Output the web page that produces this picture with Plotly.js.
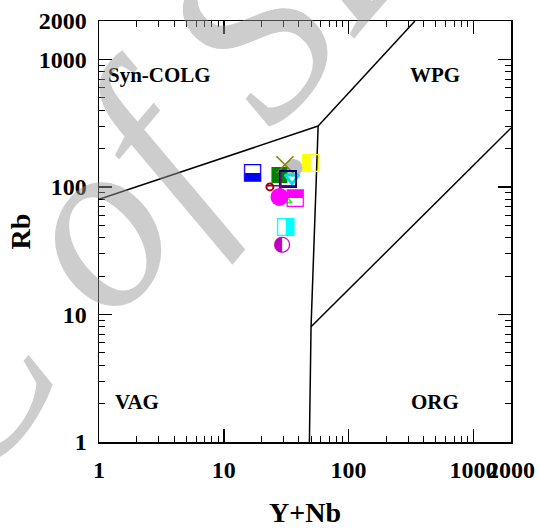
<!DOCTYPE html>
<html>
<head>
<meta charset="utf-8">
<script src="https://cdn.plot.ly/plotly-3.0.1.min.js"></script>
<style>html,body{margin:0;padding:0;background:#fff;}#chart{width:539px;height:528px;}</style>
</head>
<body>
<div id="chart"></div>
<script>
// ---- Axis ticks ----
const majorTicks = [1, 10, 100, 1000, 2000];
const majorLabels = ['1', '10', '100', '1000', '2000'];
const minorTicks = [2, 3, 4, 5, 6, 7, 8, 9, 20, 30, 40, 50, 60, 70, 80, 90, 200, 300, 400, 500, 600, 700, 800, 900];

// ---- Field boundaries (Y+Nb, Rb) ----
const bndVagColgX = [1, 57];
const bndVagColgY = [80, 300];
const bndColgWpgX = [57, 340];
const bndColgWpgY = [300, 2000];
const bndVagWpgX = [57, 50, 48.5];
const bndVagWpgY = [300, 8, 1];
const bndWpgOrgX = [50, 2000];
const bndWpgOrgY = [8, 290];

// ---- Field names ----
const fieldNames = ['Syn-COLG', 'WPG', 'VAG', 'ORG'];
const fieldX = [1.14, 492, 1.3, 492];
const fieldY = [755, 755, 2.06, 2.06];
const fieldAnchor = ['left', 'center', 'left', 'center'];

// ---- Samples drawn with marker symbols ----
const grayCircleX = [36.2];   const grayCircleY = [141];
const greenSquareX = [27.9];  const greenSquareY = [124];
const oliveXX = [30.9];       const oliveXY = [149];
const cyanTriX = [35.2];      const cyanTriY = [117.7];
const navySquareX = [32.7];   const navySquareY = [115.6];
const purpleCrossX = [28.7];  const purpleCrossY = [102];
const redCircleX = [23.4];    const redCircleY = [100];
const greenTriX = [29.8];     const greenTriY = [80.6];
const magCircleX = [27.9];    const magCircleY = [83.5];

// ---- Samples drawn with half-filled symbols ----
const blueHalfX = [17.0];     const blueHalfY = [127.6];
const yellowHalfX = [50.0];   const yellowHalfY = [152.8];
const magHalfX = [37.5];      const magHalfY = [81.3];
const cyanHalfX = [31.2];     const cyanHalfY = [48.1];
const purpleHalfX = [29.3];   const purpleHalfY = [35.1];

const SERIF = 'Liberation Serif, Times New Roman, serif';
const GLYPH = 'DejaVu Sans, sans-serif';

function bnd(x, y) {
  return {x: x, y: y, type: 'scatter', mode: 'lines', line: {color: '#000', width: 1.5}, hoverinfo: 'skip', showlegend: false};
}
function mk(x, y, symbol, color, size, lw, lc) {
  return {x: x, y: y, type: 'scatter', mode: 'markers', showlegend: false,
    marker: {symbol: symbol, color: color, size: size, line: {width: lw || 0, color: lc || color}}};
}
function half(x, y, ch, color, size) {
  return {x: x, y: y, type: 'scatter', mode: 'text', text: [ch], textposition: 'middle center',
    textfont: {family: GLYPH, size: size, color: color}, showlegend: false, cliponaxis: false};
}

const traces = [
  bnd(bndVagColgX, bndVagColgY),
  bnd(bndColgWpgX, bndColgWpgY),
  bnd(bndVagWpgX, bndVagWpgY),
  bnd(bndWpgOrgX, bndWpgOrgY),
  half(blueHalfX, blueHalfY, '\u2B13', '#0000ff', 23),
  half(yellowHalfX, yellowHalfY, '\u25E7', '#ffff00', 23),
  mk(grayCircleX, grayCircleY, 'circle', '#c0c0c0', 18),
  mk(greenSquareX, greenSquareY, 'square', '#008000', 16),
  mk(oliveXX, oliveXY, 'x-thin-open', '#808000', 17, 1.5),
  mk(cyanTriX, cyanTriY, 'triangle-down-open', '#00e0e0', 12, 3),
  mk(navySquareX, navySquareY, 'square-open', '#000080', 16, 2),
  mk(purpleCrossX, purpleCrossY, 'cross-thin-open', '#800080', 20, 1.5),
  mk(redCircleX, redCircleY, 'circle-open', '#a00000', 7, 2),
  mk(greenTriX, greenTriY, 'triangle-up-open', '#00ff00', 15, 1.5),
  mk(magCircleX, magCircleY, 'circle', '#ff00ff', 18),
  half(magHalfX, magHalfY, '\u2B12', '#ff00ff', 23),
  half(cyanHalfX, cyanHalfY, '\u25E8', '#00ffff', 23),
  half(purpleHalfX, purpleHalfY, '\u25D0', '#c000c0', 21)
];

const axisCommon = {
  type: 'log', tickmode: 'array', tickvals: majorTicks, ticktext: majorLabels,
  ticks: 'inside', ticklen: 13, tickwidth: 1.5, tickcolor: '#000',
  showline: true, linewidth: 1.5, linecolor: '#000', mirror: 'ticks',
  showgrid: false, zeroline: false, tickangle: 0,
  tickfont: {family: SERIF, size: 24, color: '#000', weight: 'bold'},
  minor: {tickmode: 'array', tickvals: minorTicks, ticks: 'inside', ticklen: 6, tickwidth: 1, tickcolor: '#000', showgrid: false},
  automargin: false
};

const annotations = fieldNames.map((t, i) => ({
  x: Math.log10(fieldX[i]), y: Math.log10(fieldY[i]), xref: 'x', yref: 'y', text: t, showarrow: false,
  xanchor: fieldAnchor[i], yanchor: 'middle', font: {family: SERIF, size: 21, color: '#000', weight: 'bold'}
}));
annotations.push({
  xref: 'paper', yref: 'paper', x: 0.112, y: 0.67, xanchor: 'center', yanchor: 'middle',
  text: 'C of SB', showarrow: false, textangle: -50,
  font: {family: SERIF, size: 245, style: 'italic', color: 'rgba(150,150,150,0.48)'}
});

const layout = {
  width: 539, height: 528,
  margin: {l: 99, r: 28, t: 21, b: 86},
  paper_bgcolor: '#fff', plot_bgcolor: '#fff',
  showlegend: false,
  xaxis: Object.assign({}, axisCommon, {range: [0, Math.log10(2000)], ticklabelstandoff: 6,
    title: {text: 'Y+Nb', font: {family: SERIF, size: 28, color: '#000', weight: 'bold'}, standoff: 27}}),
  yaxis: Object.assign({}, axisCommon, {range: [0, Math.log10(2000)], ticklabelstandoff: 6,
    title: {text: 'Rb', font: {family: SERIF, size: 28, color: '#000', weight: 'bold'}, standoff: 0}}),
  annotations: annotations
};

Plotly.newPlot('chart', traces, layout, {staticPlot: true, displayModeBar: false});
</script>
</body>
</html>
